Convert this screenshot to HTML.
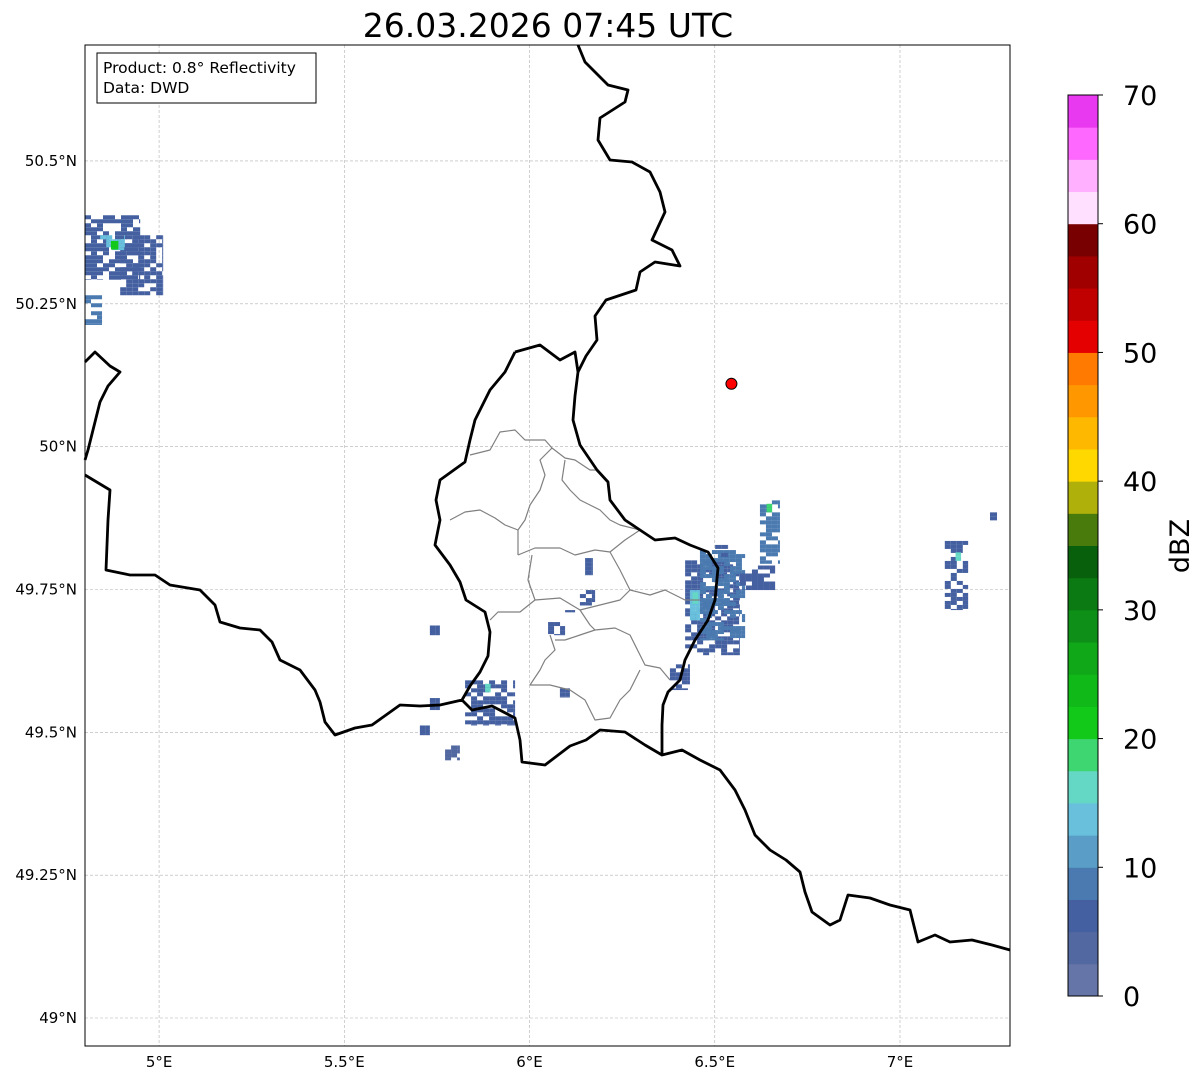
<!DOCTYPE html>
<html><head><meta charset="utf-8">
<style>
body{margin:0;background:#fff;font-family:"DejaVu Sans","Liberation Sans",sans-serif;}
svg text{font-family:"DejaVu Sans","Liberation Sans",sans-serif;}
</style></head>
<body>
<svg id="chart" width="1202" height="1081" viewBox="0 0 1202 1081" xmlns="http://www.w3.org/2000/svg">
<rect x="0" y="0" width="1202" height="1081" fill="#fff"/>
<text x="548" y="37" font-size="33" text-anchor="middle">26.03.2026 07:45 UTC</text>
<g id="grid"></g>
<g id="echoes"></g>
<g id="borders" fill="none" stroke-linejoin="round">
<path stroke="#808080" stroke-width="1.2" d="M470,455 L490,450 L500,432 L515,430 L525,440 L545,440 L552,448 L540,460 L545,475 L540,490 L530,505 L525,520 L518,530 L518,555 M552,448 L565,458 L575,460 L590,470 L597,470 M565,460 L562,480 L570,490 L580,500 L590,505 L600,510 L610,520 L620,525 L640,530 M518,555 L535,548 L560,548 L575,555 L595,550 L610,552 L625,540 L640,530 M450,520 L465,512 L480,510 L495,518 L505,525 L518,530 M532,555 L528,580 L535,600 L520,612 L498,612 L490,620 M535,600 L560,598 L580,610 L600,605 L620,600 L630,590 M610,552 L620,570 L630,590 L650,595 L665,590 L685,600 L700,600 M595,630 L615,628 L630,635 L640,655 L645,665 L660,668 L670,680 M550,635 L555,650 L545,660 L540,670 L530,685 L550,685 L570,690 L585,700 L595,720 L610,718 L620,700 L630,690 L640,670 M580,610 L590,625 L595,630 L580,635 L565,640 L555,640"/>
<path stroke="#000" stroke-width="2.8" d="M578,45 L585,62 L595,72 L608,85 L628,90 L625,102 L600,118 L598,140 L610,160 L632,162 L650,172 L660,192 L665,212 L652,240 L672,250 L680,266 L655,262 L640,272 L636,290 L606,300 L595,316 L597,340 L586,356 L578,372 L575,396 L573,420 L580,445 L597,470 L608,482 L610,500 L625,520 L640,530 L655,540 L675,538 L690,545 L708,552 L718,568 L715,600 L708,620 L695,640 L685,660 L680,680 L668,692 L663,705 L662,725 L662,755 M515,352 L540,345 L560,360 L575,352 L578,372 M515,352 L505,372 L490,390 L475,420 L470,440 L465,462 L440,480 L436,500 L440,520 L435,545 L450,565 L460,582 L466,600 L485,612 L490,632 L488,656 L480,672 L470,686 L462,700 L472,710 L492,706 L515,718 L520,740 L522,762 L545,765 L570,746 L586,740 L600,730 L625,732 L645,745 L662,755 L682,750 L700,760 L720,770 L735,790 L745,810 L755,835 L770,850 L786,860 L800,872 L805,892 L812,912 L830,925 L840,920 L848,895 L870,898 L890,905 L910,910 L918,942 L935,935 L950,942 L972,940 L992,945 L1010,950 M85,475 L110,490 L108,520 L106,570 L130,575 L155,575 L170,585 L200,590 L215,605 L220,622 L240,628 L260,630 L272,642 L280,660 L300,670 L315,690 L320,702 L325,722 L335,735 L355,728 L372,725 L386,715 L400,705 L420,706 L440,705 L462,700 M85,362 L95,352 L110,366 L120,372 L108,386 L100,402 L95,422 L88,450 L85,460"/>
</g>
<circle id="site" cx="732" cy="386" r="5.5" fill="#f00" stroke="#000" stroke-width="1"/>
<rect x="85" y="45" width="925" height="1001" fill="none" stroke="#000" stroke-width="1"/>
<g>
<rect x="97" y="53" width="219" height="50" fill="#fff" stroke="#000" stroke-width="1"/>
<text x="103" y="73" font-size="15.5">Product: 0.8° Reflectivity</text>
<text x="103" y="93" font-size="15.5">Data: DWD</text>
</g>
<g id="xticks"></g>
<g id="yticks"></g>
<g id="cbar"></g>
<text x="0" y="0" font-size="27" text-anchor="middle" transform="translate(1189,546) rotate(-90)">dBZ</text>
</svg>
<script>
const lonTicks=[5,5.5,6,6.5,7];
const lonLabels=["5°E","5.5°E","6°E","6.5°E","7°E"];
const latTicks=[50.5,50.25,50,49.75,49.5,49.25,49];
const latLabels=["50.5°N","50.25°N","50°N","49.75°N","49.5°N","49.25°N","49°N"];
const cbarTicks=[0,10,20,30,40,50,60,70];
const cbarColors=["#6675a8","#5268a0","#4460a0","#4a7ab0","#5a9ec8","#68c0dc","#64d8c4","#3ed670","#12c818","#10b818","#10a818","#0e9018","#0c7a12","#08600c","#487a0c","#b0b00a","#ffd800","#ffb800","#ff9800","#ff7a00","#e40000","#c00000","#a00000","#780000","#ffe0ff","#ffb0ff","#ff68ff","#e838f0"];
// echo patches: lon0, lat0, lon1, lat1, dbz
const echoLon0=[4.80,4.895,4.841,4.80,6.420,6.460,6.568,6.622,6.433,6.379,5.826,7.121,7.243,5.731,5.704,5.772,5.731,6.136,6.150,6.050,6.082,6.123,6.501,4.870,6.640,7.150,6.440,5.880];
const echoLat0=[50.405,50.370,50.370,50.265,49.801,49.819,49.792,49.906,49.749,49.626,49.591,49.835,49.885,49.560,49.512,49.477,49.687,49.722,49.805,49.693,49.577,49.710,49.828,50.360,49.900,49.815,49.745,49.585];
const echoLon1=[4.949,5.011,4.908,4.846,6.568,6.582,6.663,6.676,6.460,6.433,5.961,7.184,7.262,5.758,5.731,5.812,5.758,6.177,6.171,6.096,6.109,6.096,6.536,4.890,6.655,7.165,6.455,5.895];
const echoLat1=[50.292,50.265,50.344,50.213,49.635,49.661,49.749,49.795,49.696,49.574,49.512,49.714,49.871,49.539,49.495,49.451,49.670,49.749,49.775,49.670,49.561,49.714,49.801,50.345,49.885,49.800,49.725,49.570];
const echoDbz=[7,5,14,8,6,9,6,8,13,5,5,7,5,5,5,4,5,5,5,5,5,5,6,22,18,16,16,15];
const siteLon=6.545, siteLat=50.11;

const L=85,R=1010,T=45,B=1046;
const LON0=4.8,LON1=7.297,LAT0=48.951,LAT1=50.703;
const sx=v=>L+(v-LON0)/(LON1-LON0)*(R-L);
const sy=v=>T+(LAT1-v)/(LAT1-LAT0)*(B-T);
const NS="http://www.w3.org/2000/svg";
function mk(tag,attrs,parent){const e=document.createElementNS(NS,tag);for(const k in attrs)e.setAttribute(k,attrs[k]);parent.appendChild(e);return e;}
function color(d){return cbarColors[Math.max(0,Math.min(27,Math.floor(d/2.5)))];}

const grid=document.getElementById('grid'),xt=document.getElementById('xticks'),yt=document.getElementById('yticks');
lonTicks.forEach((v,i)=>{
  const x=sx(v);
  const g=mk('line',{x1:x,x2:x,y1:T,y2:B,stroke:'#b0b0b0','stroke-width':0.6,'stroke-dasharray':'3,2'},grid);
  
  
  const t=mk('text',{x:x,y:1067,'font-size':15,'text-anchor':'middle'},xt);
  t.textContent=lonLabels[i];
  
  
});
latTicks.forEach((v,i)=>{
  const y=sy(v);
  const g=mk('line',{x1:L,x2:R,y1:y,y2:y,stroke:'#b0b0b0','stroke-width':0.6,'stroke-dasharray':'3,2'},grid);
  
  
  const t=mk('text',{x:77,y:y+5,'font-size':15,'text-anchor':'end'},yt);
  t.textContent=latLabels[i];
  
  
});
const eg=document.getElementById('echoes');
function hash(a,b){let h=(a*73856093)^(b*19349663);h=(h^(h>>>13))*1274126177;return ((h>>>0)%1000)/1000;}
echoDbz.forEach((d,i)=>{
  const x0=Math.min(sx(echoLon0[i]),sx(echoLon1[i])),x1=Math.max(sx(echoLon0[i]),sx(echoLon1[i]));
  const y0=Math.min(sy(echoLat0[i]),sy(echoLat1[i])),y1=Math.max(sy(echoLat0[i]),sy(echoLat1[i]));
  const g=mk('g',{},eg);
  
  
  const cw=6,ch=4;
  for(let y=y0;y<y1;y+=ch){for(let x=x0;x<x1;x+=cw){
    if((x1-x0)>12&&(y1-y0)>10&&hash(Math.round(x)+i*7,Math.round(y))<0.35)continue;
    mk('rect',{x:x,y:y,width:Math.min(cw,x1-x),height:Math.min(ch,y1-y),fill:color(d)},g);
  }}
});
const site=document.getElementById('site');site.setAttribute('cx',sx(siteLon));site.setAttribute('cy',sy(siteLat));

const cb=document.getElementById('cbar');
const CX=1068,CW=30,CT=95,CB=996;
const cy=v=>CB-(v/70)*(CB-CT);
cbarColors.forEach((c,i)=>{
  const r=mk('rect',{x:CX,y:cy((i+1)*2.5),width:CW,height:cy(i*2.5)-cy((i+1)*2.5)+0.5,fill:c},cb);
  
  
});
const fr=mk('rect',{x:CX,y:CT,width:CW,height:CB-CT,fill:'none',stroke:'#000','stroke-width':1},cb);


cbarTicks.forEach(v=>{
  const y=cy(v);
  const tk=mk('line',{x1:CX+CW,x2:CX+CW+5,y1:y,y2:y,stroke:'#000'},cb);
  
  
  const t=mk('text',{x:1123,y:y+10,'font-size':27},cb);
  t.textContent=v;
  
  
});
</script>
</body></html>
